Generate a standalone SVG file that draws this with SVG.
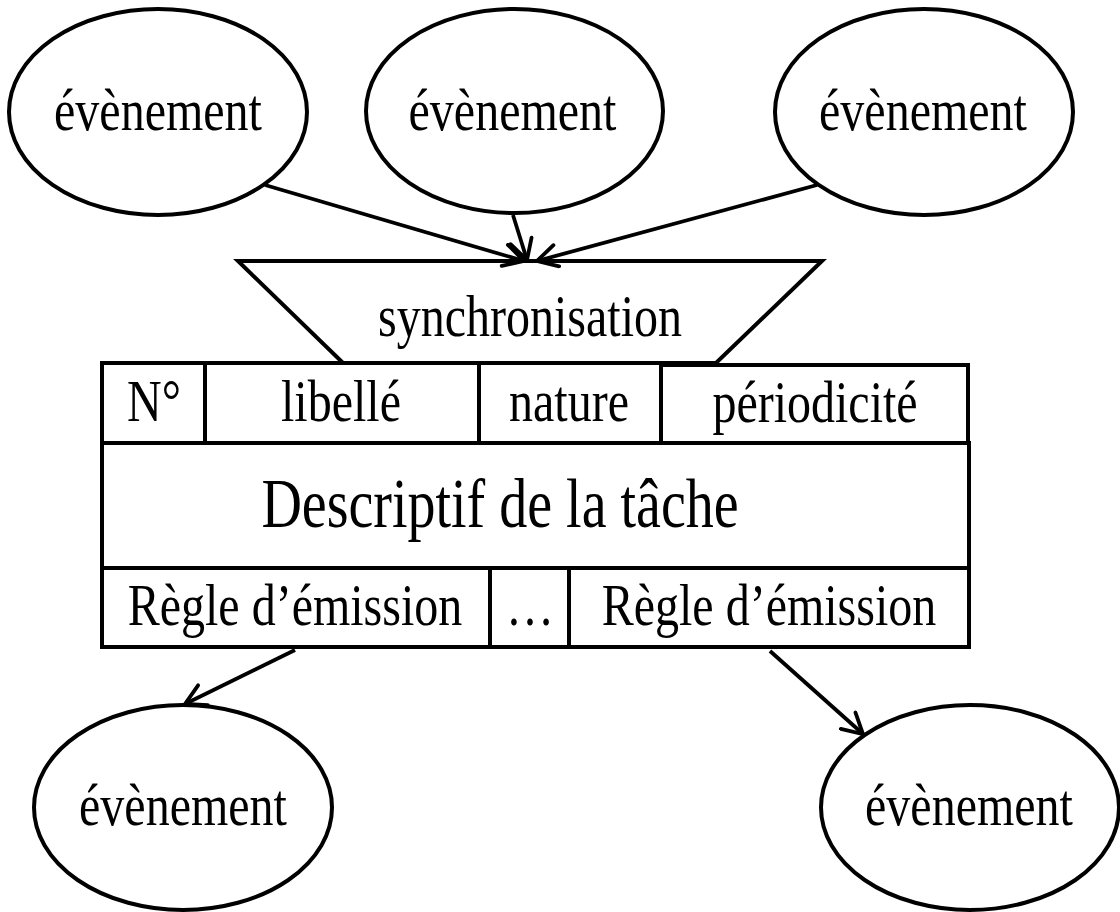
<svg xmlns="http://www.w3.org/2000/svg" width="1120" height="912" viewBox="0 0 1120 912">
<style>
.s{fill:#fff;stroke:#000;stroke-width:4}
.n{fill:none;stroke:#000;stroke-width:4}
.t{font-family:"Liberation Serif","Times New Roman",serif;font-size:48px;fill:#000;text-anchor:middle}
.c{fill:none;stroke:#000;stroke-width:3.8;marker-end:url(#ah)}
</style>
<defs>
<marker id="ah" viewBox="0 0 26 26" refX="23" refY="13" markerWidth="26" markerHeight="26" markerUnits="userSpaceOnUse" orient="auto">
<path d="M3,2 L23,13 L3,24" fill="none" stroke="#000" stroke-width="3.8" stroke-linecap="round" stroke-linejoin="miter"/>
</marker>
</defs>
<rect width="1120" height="912" fill="#fff"/>
<g id="e1"><ellipse class="s" cx="158" cy="112" rx="149" ry="103"/><text class="t" transform="matrix(1 0 0 1.25 158 130)">évènement</text></g>
<g id="e2"><ellipse class="s" cx="514.5" cy="111" rx="148.5" ry="102"/><text class="t" transform="matrix(1 0 0 1.25 512.5 130)">évènement</text></g>
<g id="e3"><ellipse class="s" cx="924" cy="112" rx="149" ry="103"/><text class="t" transform="matrix(1 0 0 1.25 923 130)">évènement</text></g>
<g id="sync"><polygon class="s" points="238,261 822,261 716,363 343,363"/><text class="t" transform="matrix(1 0 0 1.25 530 336)">synchronisation</text></g>
<g id="tache">
<rect class="s" x="102" y="363" width="559" height="80"/>
<rect class="s" x="661" y="365" width="307" height="81"/>
<rect class="s" x="102" y="443" width="867" height="204"/>
<line class="n" x1="102" y1="568" x2="969" y2="568"/>
<line class="n" x1="205" y1="363" x2="205" y2="443"/>
<line class="n" x1="479" y1="363" x2="479" y2="443"/>
<line class="n" x1="490" y1="568" x2="490" y2="647"/>
<line class="n" x1="569" y1="568" x2="569" y2="647"/>
<text class="t" transform="matrix(1 0 0 1.25 154 421)">N°</text>
<text class="t" transform="matrix(1 0 0 1.25 341 421)">libellé</text>
<text class="t" transform="matrix(1 0 0 1.25 569 421)">nature</text>
<text class="t" transform="matrix(1 0 0 1.25 815 422)">périodicité</text>
<text class="t" transform="matrix(1 0 0 1.25 500 527)" style="font-size:56px">Descriptif de la tâche</text>
<text class="t" transform="matrix(1 0 0 1.25 295 625)">Règle d’émission</text>
<text class="t" transform="matrix(1 0 0 1.25 530 625)">…</text>
<text class="t" transform="matrix(1 0 0 1.25 769 625)">Règle d’émission</text>
</g>
<g id="e4"><ellipse class="s" cx="183" cy="807.5" rx="149" ry="102.5"/><text class="t" transform="matrix(1 0 0 1.25 183 825)">évènement</text></g>
<g id="e5"><ellipse class="s" cx="970" cy="807.5" rx="149" ry="102.5"/><text class="t" transform="matrix(1 0 0 1.25 969 825)">évènement</text></g>
<g id="connectors">
<line class="c" x1="265" y1="185" x2="524" y2="261"/>
<line class="c" x1="513" y1="215" x2="527" y2="260"/>
<line class="c" x1="817" y1="185" x2="537" y2="261"/>
<line class="c" x1="295" y1="650" x2="185" y2="704"/>
<line class="c" x1="770" y1="651" x2="863" y2="734"/>
</g>
</svg>
